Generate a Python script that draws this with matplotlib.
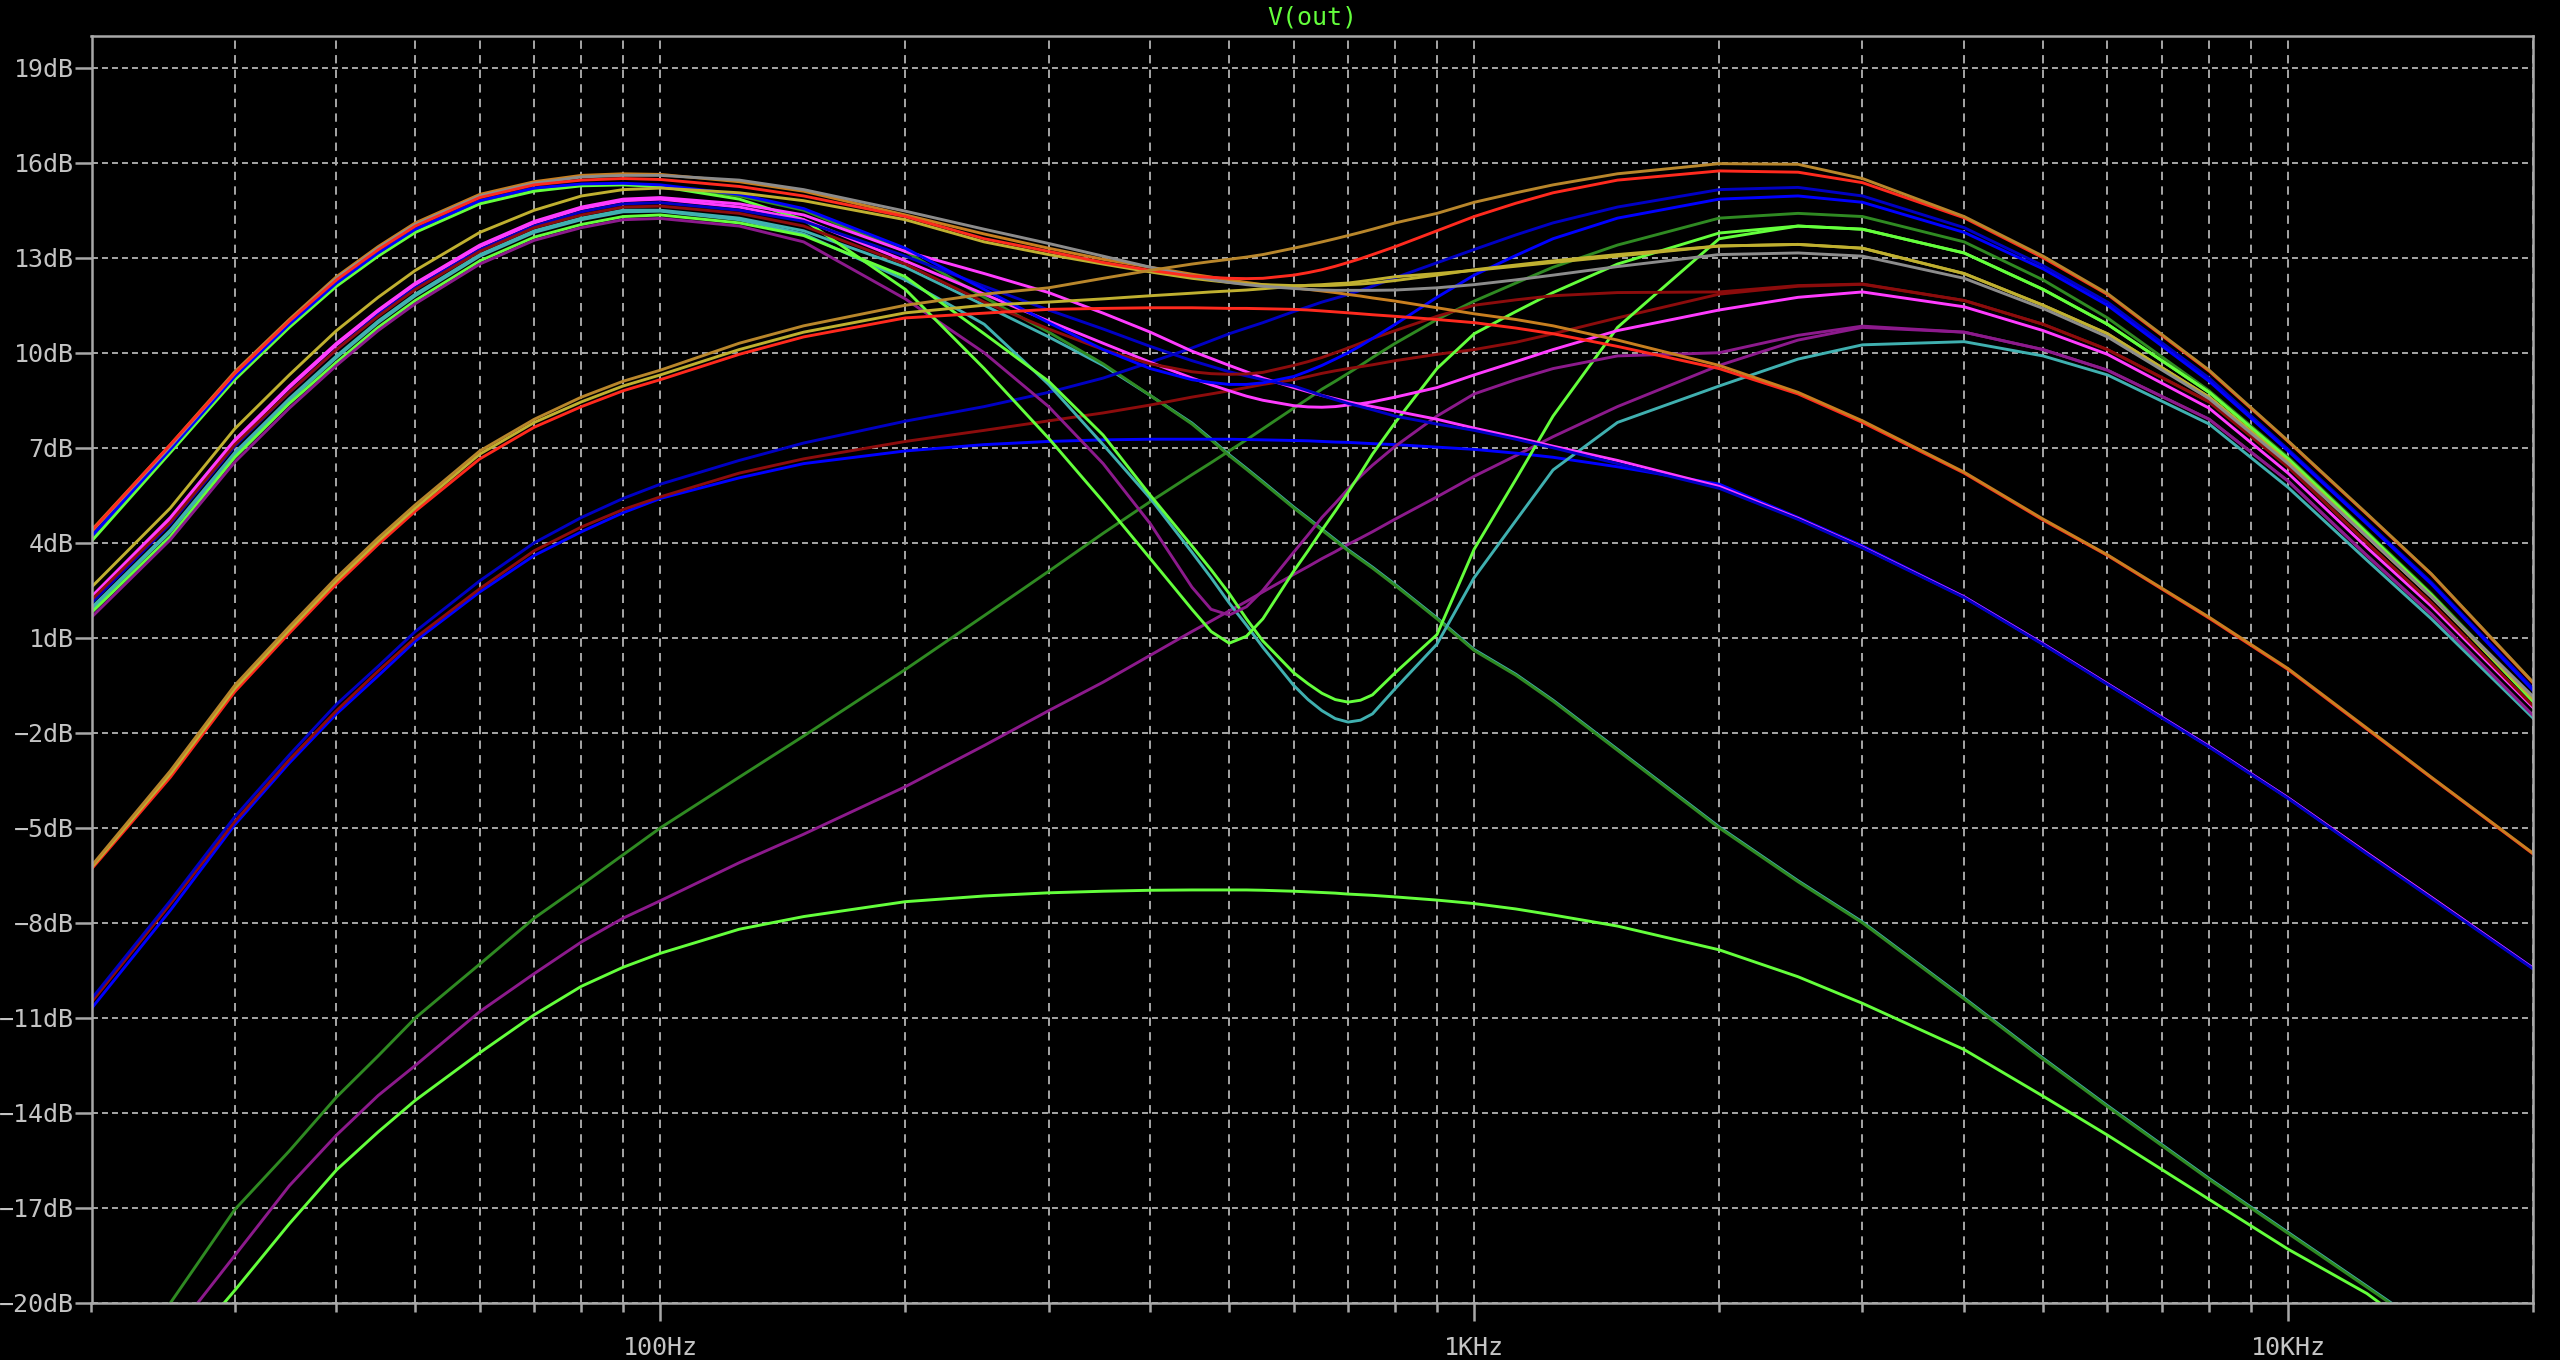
import matplotlib
matplotlib.use('Agg')
import matplotlib.pyplot as plt
from matplotlib.ticker import FixedLocator, FixedFormatter, NullFormatter

# frequency points (Hz) shared by every trace
freq = [20, 25, 30, 35, 40, 45, 50, 60, 70, 80, 90, 100, 125, 150, 200, 250, 300, 350,
        400, 450, 475, 500, 525, 550, 600, 625, 650, 675, 700, 725, 750, 800, 900, 1000, 1125, 1250, 1500,
        2000, 2500, 3000, 4000, 5000, 6000, 8000, 10000, 12500, 15000, 20000]

# V(out) in dB, one list per stepped run
gold_hi = [-6.2, -3.2, -0.5, 1.35, 2.9, 4.15, 5.2, 6.9, 7.9, 8.6, 9.1, 9.45, 10.3, 10.85, 11.5, 11.85, 12.05, 12.35,
           12.6, 12.8, 12.88, 12.95, 13.02, 13.1, 13.3, 13.4, 13.5, 13.6, 13.7, 13.8, 13.9, 14.1, 14.4, 14.75, 15.05, 15.3, 15.65,
           15.97, 15.95, 15.5, 14.3, 13.05, 11.87, 9.45, 7.22, 4.92, 3.02, -0.4]
olive_lo = [-6.25, -3.3, -0.6, 1.25, 2.8, 4.05, 5.1, 6.8, 7.8, 8.45, 8.95, 9.3, 10.1, 10.65, 11.26, 11.5, 11.6, 11.7,
            11.8, 11.88, 11.92, 11.95, 11.98, 12.02, 12.1, 12.13, 12.15, 12.18, 12.2, 12.25, 12.3, 12.4, 12.5, 12.6, 12.73, 12.85, 13.05,
            13.37, 13.42, 13.3, 12.5, 11.5, 10.6, 8.6, 6.55, 4.2, 2.3, -0.92]
red_lo = [-6.3, -3.4, -0.7, 1.15, 2.7, 3.95, 5.0, 6.65, 7.65, 8.3, 8.8, 9.15, 9.95, 10.5, 11.1, 11.25, 11.37, 11.4,
          11.42, 11.42, 11.41, 11.4, 11.4, 11.39, 11.37, 11.35, 11.32, 11.29, 11.26, 11.23, 11.2, 11.15, 11.05, 10.95, 10.78, 10.6, 10.2,
          9.5, 8.7, 7.8, 6.2, 4.72, 3.6, 1.62, 0.0, -1.88, -3.42, -5.82]
orange = [4.4, 7.1, 9.4, 11.05, 12.4, 13.35, 14.1, 15.0, 15.4, 15.6, 15.65, 15.63, 15.4, 15.1, 14.35, 13.75, 13.3, 12.95,
          12.7, 12.48, 12.39, 12.3, 12.22, 12.15, 12.05, 12.0, 11.95, 11.9, 11.84, 11.79, 11.73, 11.63, 11.42, 11.23, 11.05, 10.85, 10.4,
          9.6, 8.75, 7.85, 6.23, 4.75, 3.62, 1.65, 0.03, -1.85, -3.4, -5.8]
gray = [4.35, 7.05, 9.35, 11.0, 12.35, 13.3, 14.05, 14.95, 15.35, 15.55, 15.6, 15.6, 15.45, 15.15, 14.47, 13.9, 13.45, 13.05,
        12.7, 12.42, 12.31, 12.22, 12.15, 12.1, 12.03, 12.0, 11.98, 11.97, 11.97, 11.97, 11.97, 11.98, 12.05, 12.15, 12.3, 12.45, 12.72,
        13.1, 13.15, 13.05, 12.35, 11.4, 10.5, 8.55, 6.5, 4.2, 2.3, -0.85]
red_hi = [4.37, 7.1, 9.35, 11.0, 12.3, 13.25, 14.0, 14.9, 15.3, 15.45, 15.5, 15.47, 15.25, 14.95, 14.3, 13.6, 13.2, 12.85,
          12.6, 12.42, 12.38, 12.35, 12.34, 12.35, 12.45, 12.53, 12.62, 12.73, 12.85, 12.97, 13.1, 13.35, 13.85, 14.3, 14.72, 15.05, 15.45,
          15.74, 15.7, 15.37, 14.26, 13.0, 11.84, 9.42, 7.2, 4.9, 3.0, -0.42]
olive_hi = [2.6, 5.1, 7.6, 9.3, 10.7, 11.75, 12.6, 13.8, 14.5, 14.95, 15.15, 15.2, 15.05, 14.8, 14.2, 13.5, 13.1, 12.8,
            12.55, 12.35, 12.28, 12.22, 12.18, 12.15, 12.12, 12.12, 12.12, 12.13, 12.15, 12.17, 12.2, 12.28, 12.45, 12.62, 12.77, 12.9, 13.1,
            13.37, 13.42, 13.3, 12.5, 11.5, 10.6, 8.6, 6.55, 4.2, 2.3, -0.92]
blue_dip = [4.2, 6.95, 9.25, 10.9, 12.2, 13.15, 13.9, 14.8, 15.2, 15.33, 15.35, 15.3, 15.0, 14.55, 13.3, 12.0, 10.95, 10.1,
            9.5, 9.15, 9.06, 9.0, 9.0, 9.05, 9.25, 9.42, 9.6, 9.8, 10.0, 10.22, 10.45, 10.9, 11.75, 12.45, 13.07, 13.6, 14.25,
            14.85, 14.95, 14.75, 13.8, 12.65, 11.5, 9.1, 6.9, 4.6, 2.7, -0.66]
dkred_dip = [2.2, 4.65, 7.1, 8.75, 10.1, 11.15, 12.0, 13.2, 13.95, 14.35, 14.6, 14.63, 14.4, 14.0, 12.8, 11.6, 10.75, 10.1,
             9.65, 9.4, 9.34, 9.32, 9.33, 9.38, 9.6, 9.72, 9.85, 10.0, 10.15, 10.3, 10.45, 10.7, 11.15, 11.5, 11.67, 11.8, 11.9,
             11.92, 12.12, 12.17, 11.65, 10.9, 10.1, 8.45, 6.4, 4.0, 2.1, -1.15]
dkred_up = [-10.5, -7.4, -4.8, -2.85, -1.3, -0.05, 1.0, 2.55, 3.75, 4.5, 5.05, 5.45, 6.2, 6.65, 7.2, 7.55, 7.85, 8.1,
            8.35, 8.6, 8.7, 8.8, 8.9, 9.0, 9.15, 9.25, 9.35, 9.43, 9.5, 9.56, 9.62, 9.75, 9.95, 10.1, 10.33, 10.6, 11.1,
            11.85, 12.1, 12.16, 11.65, 10.9, 10.1, 8.45, 6.4, 4.0, 2.1, -1.15]
dkblue_up = [-10.4, -7.3, -4.65, -2.7, -1.1, 0.1, 1.2, 2.8, 4.0, 4.8, 5.4, 5.85, 6.6, 7.15, 7.84, 8.3, 8.75, 9.2,
             9.7, 10.15, 10.38, 10.6, 10.78, 10.95, 11.3, 11.45, 11.6, 11.72, 11.84, 11.97, 12.1, 12.37, 12.84, 13.26, 13.72, 14.1, 14.6,
             15.15, 15.22, 14.95, 13.95, 12.75, 11.6, 9.2, 6.95, 4.65, 2.75, -0.6]
blue_flat = [-10.7, -7.6, -4.9, -2.95, -1.4, -0.2, 0.9, 2.45, 3.6, 4.35, 4.95, 5.4, 6.05, 6.5, 6.9, 7.1, 7.2, 7.25,
             7.27, 7.27, 7.27, 7.27, 7.26, 7.25, 7.23, 7.22, 7.2, 7.18, 7.17, 7.15, 7.13, 7.1, 7.02, 6.95, 6.83, 6.7, 6.4,
             5.85, 4.8, 3.9, 2.3, 0.82, -0.45, -2.42, -4.05, -5.8, -7.2, -9.42]
dkblue_desc = [2.1, 4.6, 7.05, 8.75, 10.1, 11.2, 12.05, 13.25, 14.0, 14.45, 14.7, 14.74, 14.5, 14.15, 13.05, 12.1, 11.35, 10.75,
               10.2, 9.75, 9.57, 9.4, 9.27, 9.15, 8.95, 8.8, 8.65, 8.52, 8.4, 8.3, 8.2, 8.0, 7.75, 7.55, 7.27, 7.0, 6.5,
               5.72, 4.74, 3.84, 2.27, 0.79, -0.47, -2.45, -4.07, -5.82, -7.22, -9.45]
magenta_desc = [2.3, 4.8, 7.25, 8.95, 10.3, 11.35, 12.2, 13.4, 14.15, 14.6, 14.85, 14.9, 14.7, 14.35, 13.2, 12.5, 11.9, 11.25,
                10.65, 10.05, 9.82, 9.6, 9.4, 9.2, 8.9, 8.77, 8.65, 8.55, 8.45, 8.37, 8.3, 8.16, 7.9, 7.62, 7.33, 7.05, 6.6,
                5.78, 4.77, 3.86, 2.29, 0.81, -0.45, -2.43, -4.05, -5.79, -7.19, -9.43]
magenta_dip = [2.25, 4.75, 7.2, 8.9, 10.25, 11.3, 12.15, 13.35, 14.1, 14.55, 14.8, 14.85, 14.6, 14.2, 12.9, 11.85, 11.0, 10.3,
               9.7, 9.2, 8.99, 8.8, 8.63, 8.5, 8.33, 8.29, 8.28, 8.3, 8.35, 8.39, 8.45, 8.6, 8.9, 9.3, 9.72, 10.1, 10.7,
               11.35, 11.75, 11.92, 11.45, 10.7, 9.95, 8.25, 6.2, 3.85, 2.0, -1.2]
purple_notch = [1.65, 4.1, 6.55, 8.25, 9.6, 10.7, 11.55, 12.8, 13.55, 13.95, 14.2, 14.24, 14.0, 13.5, 11.7, 10.0, 8.3, 6.5,
                4.6, 2.6, 1.9, 1.72, 1.98, 2.5, 3.7, 4.25, 4.8, 5.25, 5.7, 6.1, 6.45, 7.05, 8.0, 8.7, 9.15, 9.5, 9.9,
                10.0, 10.55, 10.84, 10.65, 10.1, 9.45, 7.9, 5.95, 3.6, 1.75, -1.45]
lgreen_notch1 = [4.05, 6.85, 9.15, 10.8, 12.1, 13.05, 13.8, 14.7, 15.1, 15.27, 15.3, 15.25, 14.85, 14.2, 12.0, 9.5, 7.3, 5.3,
                 3.5, 1.9, 1.2, 0.83, 1.05, 1.6, 3.1, 3.75, 4.4, 5.0, 5.6, 6.2, 6.8, 7.8, 9.5, 10.6, 11.3, 11.9, 12.8,
                 13.78, 14.0, 13.9, 13.15, 12.0, 10.9, 8.75, 6.65, 4.3, 2.35, -1.0]
lgreen_notch2 = [1.8, 4.2, 6.7, 8.4, 9.7, 10.8, 11.65, 12.9, 13.65, 14.05, 14.3, 14.35, 14.1, 13.7, 12.4, 10.6, 9.1, 7.4,
                 5.5, 3.9, 3.15, 2.4, 1.6, 0.9, -0.1, -0.45, -0.75, -0.95, -1.03, -0.97, -0.8, -0.1, 1.1, 3.8, 6.0, 8.0, 10.8,
                 13.6, 14.0, 13.9, 13.15, 12.0, 10.9, 8.75, 6.65, 4.3, 2.35, -1.0]
teal_notch = [1.9, 4.35, 6.8, 8.5, 9.85, 10.95, 11.8, 13.05, 13.8, 14.2, 14.45, 14.47, 14.2, 13.75, 12.3, 10.9, 9.0, 7.1,
              5.4, 3.7, 2.9, 2.1, 1.4, 0.7, -0.5, -0.95, -1.3, -1.55, -1.66, -1.6, -1.4, -0.6, 0.8, 2.9, 4.7, 6.3, 7.8,
              8.95, 9.8, 10.25, 10.35, 9.9, 9.3, 7.75, 5.75, 3.45, 1.6, -1.53]
dkgreen_up = [-23.6, -20.0, -17.05, -15.2, -13.5, -12.2, -11.0, -9.3, -7.85, -6.8, -5.85, -5.0, -3.4, -2.1, 0.0, 1.7, 3.1, 4.3,
              5.3, 6.15, 6.53, 6.9, 7.25, 7.6, 8.25, 8.55, 8.85, 9.1, 9.35, 9.6, 9.85, 10.3, 11.05, 11.63, 12.2, 12.7, 13.4,
              14.25, 14.4, 14.3, 13.5, 12.3, 11.1, 8.8, 6.7, 4.35, 2.4, -0.95]
purple_up = [-24.5, -21.1, -18.5, -16.3, -14.7, -13.45, -12.5, -10.8, -9.6, -8.6, -7.85, -7.3, -6.1, -5.2, -3.7, -2.4, -1.3, -0.4,
             0.45, 1.2, 1.53, 1.85, 2.15, 2.45, 3.0, 3.25, 3.5, 3.72, 3.95, 4.15, 4.35, 4.75, 5.45, 6.1, 6.75, 7.35, 8.3,
             9.6, 10.4, 10.8, 10.65, 10.1, 9.45, 7.9, 5.95, 3.6, 1.75, -1.45]
lgreen_low = [-26.5, -22.0, -19.6, -17.5, -15.8, -14.6, -13.6, -12.1, -10.9, -10.0, -9.4, -8.96, -8.2, -7.8, -7.33, -7.15, -7.05, -7.0,
              -6.97, -6.96, -6.96, -6.96, -6.96, -6.97, -7.0, -7.02, -7.04, -7.06, -7.09, -7.11, -7.13, -7.18, -7.28, -7.39, -7.56, -7.75, -8.1,
              -8.85, -9.7, -10.54, -12.0, -13.47, -14.7, -16.73, -18.3, -19.7, -21.2, -23.8]
dkgreen_desc = [4.1, 6.9, 9.2, 10.85, 12.15, 13.1, 13.85, 14.75, 15.15, 15.3, 15.32, 15.28, 14.95, 14.5, 13.2, 11.75, 10.65, 9.65,
                8.65, 7.75, 7.25, 6.75, 6.32, 5.9, 5.1, 4.75, 4.4, 4.07, 3.75, 3.47, 3.2, 2.65, 1.6, 0.6, -0.18, -1.0, -2.55,
                -5.0, -6.7, -8.0, -10.4, -12.3, -13.8, -16.1, -17.8, -19.5, -20.9, -23.0]
teal_desc = [1.95, 4.4, 6.85, 8.55, 9.9, 11.0, 11.85, 13.1, 13.85, 14.25, 14.5, 14.5, 14.25, 13.85, 12.7, 11.5, 10.5, 9.6,
             8.65, 7.78, 7.28, 6.78, 6.35, 5.93, 5.13, 4.78, 4.43, 4.1, 3.78, 3.5, 3.23, 2.68, 1.63, 0.63, -0.15, -0.97, -2.52,
             -4.97, -6.67, -7.97, -10.37, -12.27, -13.77, -16.07, -17.77, -19.47, -20.87, -22.97]

# axis ticks / labels
x_major = [100, 1000, 10000]
x_major_labels = ['100Hz', '1KHz', '10KHz']
x_minor = [20, 30, 40, 50, 60, 70, 80, 90, 200, 300, 400, 500, 600, 700, 800, 900,
           2000, 3000, 4000, 5000, 6000, 7000, 8000, 9000, 20000]
y_ticks = list(range(-20, 20, 3))

# LTspice-like trace colours
RED = '#ff2a1e'
BLUE = '#0000ff'
DKBLUE = '#0000c4'
LGREEN = '#64ff3c'
TEAL = '#40b0b0'
MAGENTA = '#ff3cff'
DKGREEN = '#2f8a22'
PURPLE = '#8c1a8c'
GOLD = '#b8862b'
OLIVE = '#c0b030'
GRAY = '#8c8c8c'
DKRED = '#8c0c0c'
ORANGE = '#c87f20'

traces = [
    (lgreen_low, LGREEN), (purple_up, PURPLE), (dkgreen_up, DKGREEN),
    (teal_desc, TEAL), (dkgreen_desc, DKGREEN),
    (blue_flat, BLUE), (dkred_up, DKRED), (dkblue_up, DKBLUE),
    (teal_notch, TEAL), (lgreen_notch2, LGREEN), (purple_notch, PURPLE), (lgreen_notch1, LGREEN),
    (magenta_dip, MAGENTA), (magenta_desc, MAGENTA), (dkblue_desc, DKBLUE),
    (dkred_dip, DKRED), (blue_dip, BLUE),
    (red_lo, RED), (orange, ORANGE), (olive_lo, OLIVE), (olive_hi, OLIVE),
    (gray, GRAY), (red_hi, RED), (gold_hi, GOLD),
]

plt.rcParams['lines.scale_dashes'] = False
plt.rcParams['font.family'] = 'DejaVu Sans Mono'

W, H = 2560, 1360
fig = plt.figure(figsize=(W / 100, H / 100), dpi=100)
fig.patch.set_facecolor('black')
left, right, top, bottom = 91.5, 2533, 36, 1303
ax = fig.add_axes([left / W, 1 - bottom / H, (right - left) / W, (bottom - top) / H])
ax.set_facecolor('black')

for vals, col in traces:
    ax.plot(freq, vals, color=col, lw=2.1, solid_joinstyle='round', zorder=3)

ax.set_xscale('log')
ax.set_xlim(20, 20000)
ax.set_ylim(-20, 20)

ax.xaxis.set_major_locator(FixedLocator(x_major))
ax.xaxis.set_major_formatter(FixedFormatter(x_major_labels))
ax.xaxis.set_minor_locator(FixedLocator(x_minor))
ax.xaxis.set_minor_formatter(NullFormatter())
ax.yaxis.set_major_locator(FixedLocator(y_ticks))
ax.yaxis.set_major_formatter(FixedFormatter([f'{v}dB'.replace('-', '\u2212') for v in y_ticks]))

grid_col = '#a6a6a6'
ax.set_axisbelow(True)
ax.xaxis.grid(True, which='both', color=grid_col, lw=1.4, linestyle=(0, (6.0, 4.5)))
ax.yaxis.grid(True, which='major', color=grid_col, lw=1.4, linestyle=(0, (4.3, 2.9)))

frame_col = '#a8a8a8'
for s in ax.spines.values():
    s.set_color(frame_col)
    s.set_linewidth(1.8)
    s.set_zorder(5)

text_col = '#c4c4c4'
ax.tick_params(axis='y', which='major', direction='out', length=12, width=1.8,
               color=frame_col, labelcolor=text_col, labelsize=18, pad=1)
ax.tick_params(axis='x', which='major', direction='out', length=13, width=1.8,
               color=frame_col, labelcolor=text_col, labelsize=18, pad=11)
ax.tick_params(axis='x', which='minor', direction='out', length=6.5, width=1.8, color=frame_col)

fig.text((left + right) / 2 / W, 1 - 18 / H, 'V(out)', color=LGREEN, fontsize=18,
         ha='center', va='center')

fig.savefig('out.png', dpi=100, facecolor='black')
